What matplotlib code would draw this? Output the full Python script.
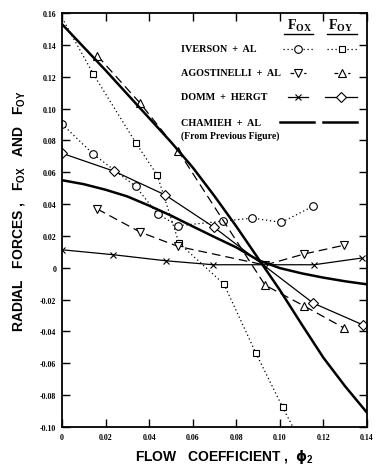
import matplotlib
matplotlib.use("Agg")
import matplotlib.pyplot as plt

plt.rcParams['mathtext.fontset'] = 'custom'
plt.rcParams['mathtext.sf'] = 'Liberation Sans:bold'
plt.rcParams['mathtext.rm'] = 'Liberation Serif'
plt.rcParams['mathtext.bf'] = 'Liberation Serif:bold'
plt.rcParams['mathtext.it'] = 'DejaVu Sans:bold'

# ---------------- data ----------------
# Iverson + al
iv_fox_x = [0.0, 0.0143, 0.0338, 0.0439, 0.0533, 0.0739, 0.0874, 0.1007, 0.1152]
iv_fox_y = [0.0903, 0.0714, 0.0511, 0.0337, 0.0264, 0.0293, 0.0312, 0.0285, 0.0386]
iv_foy_x = [0.0, 0.0144, 0.0340, 0.0437, 0.0537, 0.0743, 0.0890, 0.1013, 0.1060]
iv_foy_y = [0.157, 0.1216, 0.0782, 0.0582, 0.0155, -0.0102, -0.0536, -0.0877, -0.100]
# Agostinelli + al
ag_x = [0.0162, 0.0359, 0.0533, 0.0932, 0.1110, 0.1293]
ag_fox_y = [0.0369, 0.0224, 0.0134, 0.0017, 0.0086, 0.0141]
ag_foy_y = [0.1332, 0.1033, 0.0735, -0.0109, -0.0239, -0.0377]
# Domm + Hergt
dh_fox_x = [0.0, 0.0235, 0.0476, 0.0694, 0.1157, 0.1375]
dh_fox_y = [0.0113, 0.0082, 0.0044, 0.0019, 0.0019, 0.0061]
dh_foy_x = [0.0, 0.0240, 0.0474, 0.0698, 0.1153, 0.1380]
dh_foy_y = [0.0719, 0.0606, 0.0457, 0.0254, -0.0222, -0.0358]
# Chamieh + al (from previous figure)
ch_fox_x = [0.0, 0.01, 0.02, 0.03, 0.04, 0.05, 0.06, 0.07, 0.08, 0.09, 0.10, 0.11, 0.12, 0.13, 0.14]
ch_fox_y = [0.055, 0.0525, 0.049, 0.0448, 0.039, 0.0328, 0.026, 0.0193, 0.0128, 0.0048, -0.0002,
            -0.0035, -0.0062, -0.0085, -0.0104]
ch_foy_x = [0.0, 0.02, 0.04, 0.05, 0.06, 0.07, 0.08, 0.09, 0.10, 0.11, 0.12, 0.13, 0.14]
ch_foy_y = [0.153, 0.124, 0.094, 0.079, 0.063, 0.045, 0.026, 0.006, -0.014, -0.0355, -0.0565,
            -0.0745, -0.091]

x_ticks = [0.0, 0.02, 0.04, 0.06, 0.08, 0.10, 0.12, 0.14]
x_tick_labels = ["0", "0.02", "0.04", "0.06", "0.08", "0.10", "0.12", "0.14"]
y_ticks = [0.16, 0.14, 0.12, 0.10, 0.08, 0.06, 0.04, 0.02, 0.0, -0.02, -0.04, -0.06, -0.08, -0.10]
y_tick_labels = ["0.16", "0.14", "0.12", "0.10", "0.08", "0.06", "0.04", "0.02", "0",
                 "-0.02", "-0.04", "-0.06", "-0.08", "-0.10"]

legend_names = ["IVERSON  +  AL", "AGOSTINELLI  +  AL", "DOMM  +  HERGT", "CHAMIEH  +  AL"]

# ---------------- figure ----------------
W, H = 382, 477
fig = plt.figure(figsize=(W / 100, H / 100), dpi=100)
AX_L, AX_R, AX_T, AX_B = 62, 367, 14, 428
ax = fig.add_axes([AX_L / W, 1 - AX_B / H, (AX_R - AX_L) / W, (AX_B - AX_T) / H])

DOT = (0, (1, 2.2))
DASH = (0, (7, 4))
mk = dict(mfc='white', mec='black', mew=0.8, color='black')

ax.plot(iv_fox_x, iv_fox_y, ls=DOT, lw=0.9, marker='o', ms=5.5, **mk)
ax.plot(iv_foy_x, iv_foy_y, ls=DOT, lw=0.9, marker='s', ms=5.0,
        markevery=list(range(1, len(iv_foy_x) - 1)), **mk)
ax.plot(ag_x, ag_fox_y, ls=DASH, lw=0.9, marker='v', ms=5.5, **mk)
ax.plot(ag_x, ag_foy_y, ls=DASH, lw=0.9, marker='^', ms=5.5, **mk)
ax.plot(dh_fox_x, dh_fox_y, ls='-', lw=0.9, marker='x', ms=4.0, **mk)
ax.plot(dh_foy_x, dh_foy_y, ls='-', lw=0.9, marker='D', ms=5.0, **mk)
ax.plot(ch_fox_x, ch_fox_y, ls='-', lw=1.8, color='black')
ax.plot(ch_foy_x, ch_foy_y, ls='-', lw=1.8, color='black')

ax.set_xlim(0, 0.14)
ax.set_ylim(-0.10, 0.16)
ax.set_xticks(x_ticks)
ax.set_xticklabels(x_tick_labels)
ax.set_yticks(y_ticks)
ax.set_yticklabels(y_tick_labels)
ax.tick_params(direction='in', length=6, width=1.0, top=True, right=True, pad=4)
for lab in ax.get_xticklabels() + ax.get_yticklabels():
    lab.set_fontfamily('Liberation Serif')
    lab.set_fontweight('bold')
    lab.set_fontsize(5.7)
for sp in ax.spines.values():
    sp.set_linewidth(1.3)

# ---------------- legend table (drawn by hand) ----------------
def axp(px, py):
    return (px - AX_L) / (AX_R - AX_L), 1 - (py - AX_T) / (AX_B - AX_T)

row_y = [50, 73.5, 98, 123]
for name, py in zip(legend_names, row_y):
    tx, ty = axp(181, py)
    ax.text(tx, ty, name, transform=ax.transAxes, ha='left', va='center',
            fontsize=7.3, family='Liberation Serif', weight='bold')
tx, ty = axp(181, 136)
ax.text(tx, ty, "(From Previous Figure)", transform=ax.transAxes, ha='left', va='center',
        fontsize=7, family='Liberation Serif', weight='bold')

for label, cx, (u1, u2) in [(r"$\mathbf{F_{OX}}$", 300, (284, 313)),
                            (r"$\mathbf{F_{OY}}$", 341, (327, 357))]:
    tx, ty = axp(cx, 26)
    ax.text(tx, ty, label, transform=ax.transAxes, ha='center', va='center', fontsize=10)
    a = axp(u1, 35)
    b = axp(u2, 35)
    ax.plot([a[0], b[0]], [a[1], b[1]], color='black', lw=1.0, transform=ax.transAxes, clip_on=False)

def sample(cx, half, py, **kw):
    a = axp(cx - half, py)
    c = axp(cx, py)
    b = axp(cx + half, py)
    ax.plot([a[0], c[0], b[0]], [a[1], c[1], b[1]], transform=ax.transAxes,
            clip_on=False, markevery=[1], **kw)

sample(298, 15, row_y[0], ls=DOT, lw=0.9, marker='o', ms=5.5, **mk)
sample(342, 15, row_y[0], ls=DOT, lw=0.9, marker='s', ms=5.0, **mk)
sample(298, 8, row_y[1], ls=(0, (3, 2.5)), lw=0.9, marker='v', ms=5.5, **mk)
sample(342, 8, row_y[1], ls=(0, (3, 2.5)), lw=0.9, marker='^', ms=5.5, **mk)
sample(298, 10, row_y[2], ls='-', lw=0.9, marker='x', ms=4.0, **mk)
sample(341, 16, row_y[2], ls='-', lw=0.9, marker='D', ms=5.0, **mk)
sample(297, 17, row_y[3], ls='-', lw=1.8, color='black')
sample(340, 17, row_y[3], ls='-', lw=1.8, color='black')

# ---------------- axis titles ----------------
fig.text(19 / W, 1 - 211 / H, r"RADIAL   FORCES ,   $\mathsf{F_{OX}}$   AND   $\mathsf{F_{OY}}$",
         rotation=90, ha='center', va='center', fontsize=10,
         family='Liberation Sans', weight='bold')
fig.text(224 / W, 1 - 457 / H, r"FLOW   COEFFICIENT ,  $\phi_{\mathsf{2}}$",
         ha='center', va='center', fontsize=10, family='Liberation Sans', weight='bold')

fig.savefig("out.png", dpi=100)
